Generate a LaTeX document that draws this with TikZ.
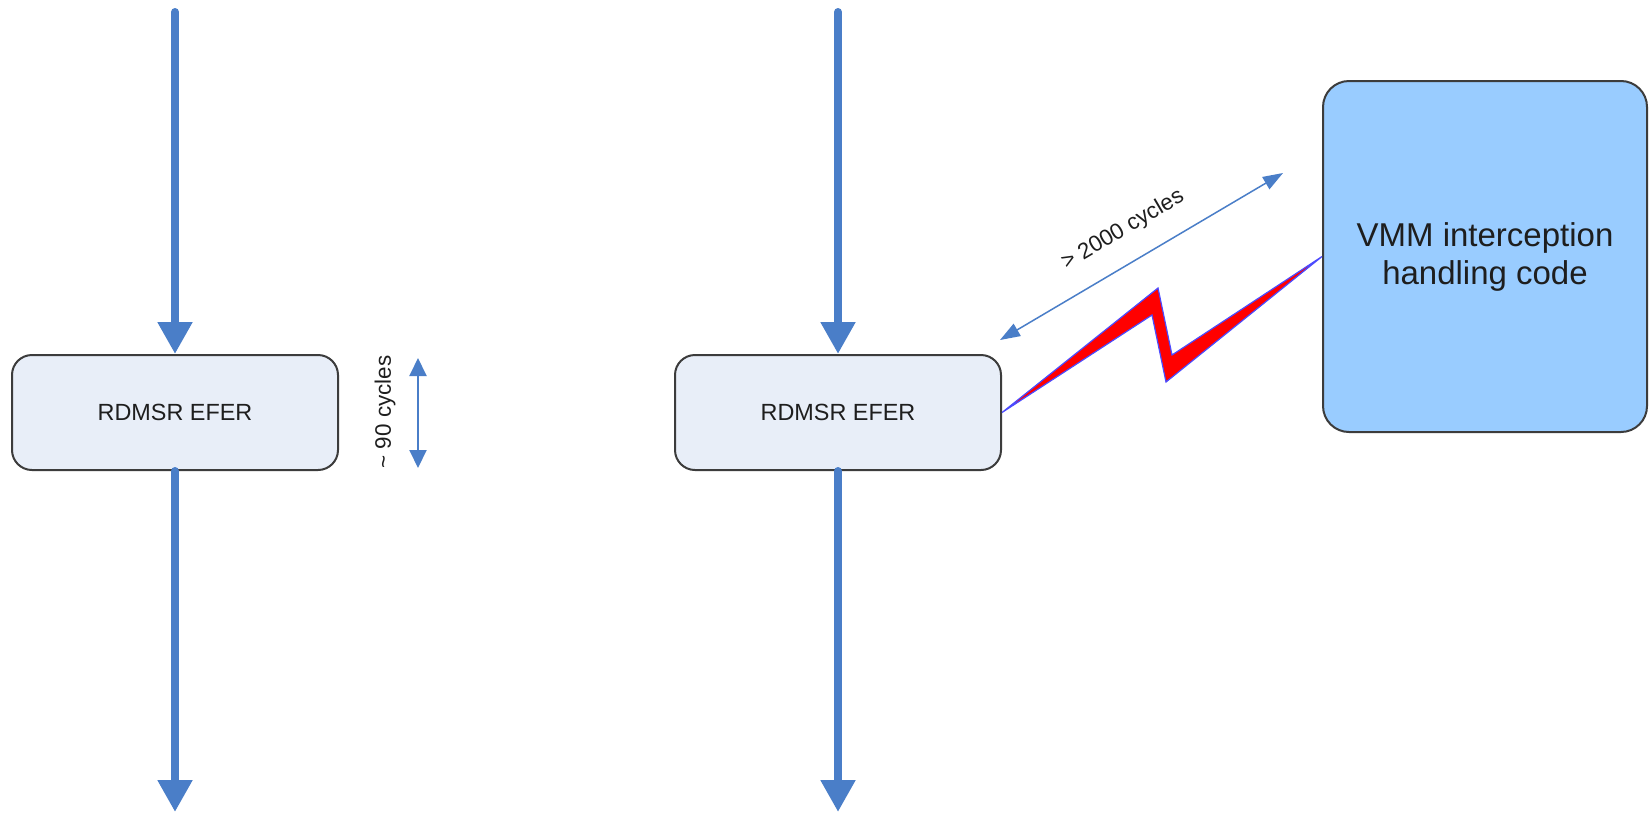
\documentclass[tikz,border=0pt]{standalone}
\usepackage{fontspec}
\setmainfont{Liberation Sans}
\usetikzlibrary{arrows.meta}
\definecolor{flowblue}{HTML}{4A7EC8}
\definecolor{boxfill}{HTML}{E8EEF8}
\definecolor{vmmfill}{HTML}{99CCFF}
\definecolor{edgegrey}{HTML}{3C3C3C}
\definecolor{boltred}{HTML}{FF0000}
\definecolor{boltedge}{HTML}{4B4BFF}
\definecolor{ink}{HTML}{1E1E1E}
\begin{document}
\begin{tikzpicture}[x=0.5pt,y=-0.5pt,
  instr/.style={draw=edgegrey, line width=1pt, fill=boxfill, rounded corners=10pt,
    minimum width=163pt, minimum height=57.5pt, inner sep=0pt,
    font=\fontsize{11.7}{14}\selectfont, text=ink},
  handler/.style={draw=edgegrey, line width=1pt, fill=vmmfill, rounded corners=13pt,
    minimum width=162pt, minimum height=175.5pt, inner sep=0pt, align=center,
    font=\fontsize{16.5}{19}\selectfont, text=ink},
  flow/.style={draw=flowblue, line width=4pt, line cap=round,
    -{Triangle[length=16pt,width=16.5pt]}},
  span/.style={draw=flowblue, line width=0.75pt,
    {Triangle[length=10pt,width=7pt]}-{Triangle[length=10pt,width=7pt]}},
  shortspan/.style={draw=flowblue, line width=1pt,
    {Triangle[length=9pt,width=8.5pt]}-{Triangle[length=9pt,width=8.5pt]}},
  cyclabel/.style={font=\fontsize{11.2}{13}\selectfont, text=ink, inner sep=0pt}
]
\useasboundingbox (0,0) rectangle (1652,814);
\fill[white] (0,0) rectangle (1652,814);

% native execution
\node[instr] (b1) at (175,412.5) {RDMSR EFER};
\coordinate (s1) at (175,12);
\coordinate (e1) at (175,812);
\draw[flow] (s1) -- (b1.north);
\draw[flow] (b1.south) -- (e1);

\coordinate (c1a) at (418,358);
\coordinate (c1b) at (418,468);
\draw[shortspan] (c1a) -- (c1b);
\node[cyclabel, rotate=90] (t90) at (385,412) {\textasciitilde{} 90 cycles};

% intercepted execution
\node[instr] (b2) at (838,412.5) {RDMSR EFER};
\coordinate (s2) at (838,12);
\coordinate (e2) at (838,812);
\draw[flow] (s2) -- (b2.north);
\draw[flow] (b2.south) -- (e2);

\node[handler] (vmm) at (1485,256.5) {VMM interception\\handling code};

% lightning bolt into the handler
\filldraw[fill=boltred, draw=boltedge, line width=0.6pt, line join=miter]
  (b2.east) -- (1158,288) -- (1172,355) -- (vmm.west) -- (1166,382) -- (1152,315) -- cycle;

\coordinate (c2a) at (1000,340);
\coordinate (c2b) at (1283,173);
\draw[span] (c2a) -- (c2b);
\node[cyclabel, rotate=30.5] (t2000) at (1123,230) {> 2000 cycles};
\end{tikzpicture}
\end{document}
